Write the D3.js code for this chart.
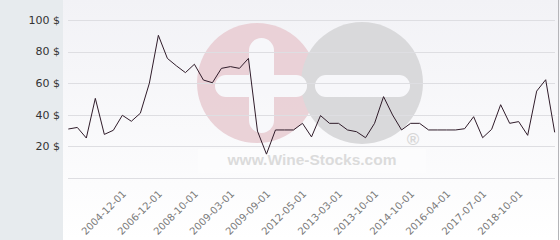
<!DOCTYPE html>
<html>
<head>
<meta charset="utf-8">
<script src="https://cdn.jsdelivr.net/npm/d3@7"></script>
<style>
  html, body { margin: 0; padding: 0; background: #fff; }
  svg { display: block; }
</style>
</head>
<body>
<svg id="chart"></svg>
<script>
// Prix d'une bouteille (vin) — historique
const values = [
  31, 32, 25.3, 50.4, 27.6, 30.2, 39.7, 35.9, 41, 60,
  90.3, 75.7, 71, 66.7, 72, 62, 60.3, 69.4, 70.5, 69.4,
  75.7, 29.7, 15.1, 30.4, 30.4, 30.4, 34.6, 26, 39.5, 34.6,
  34.6, 30.4, 29.3, 25.5, 34.6, 51.5, 39.9, 30.4, 34.6, 34.6,
  30.4, 30.4, 30.4, 30.4, 31.2, 38.8, 25.5, 30.8, 46.4, 34.6,
  35.7, 27, 55, 62.2, 28.9
];
const tickIndex = [6, 10, 14, 18, 22, 26, 30, 34, 38, 42, 46, 50];
const tickLabels = [
  '2004-12-01', '2006-12-01', '2008-10-01', '2009-03-01', '2009-09-01', '2012-05-01',
  '2013-03-01', '2013-10-01', '2014-10-01', '2016-04-01', '2017-07-01', '2018-10-01'
];
const yTicks = [0, 20, 40, 60, 80, 100];

const W = 560, H = 240;
const svg = d3.select('#chart').attr('width', W).attr('height', H);

const x = d3.scaleLinear().domain([0, values.length - 1]).range([68.3, 554.7]);
const y = d3.scaleLinear().domain([0, 100]).range([178, 20]);

const defs = svg.append('defs');
const grad = defs.append('linearGradient').attr('id', 'bg')
  .attr('x1', 0).attr('y1', 0).attr('x2', 0).attr('y2', 1);
grad.append('stop').attr('offset', '0%').attr('stop-color', '#f2f2f6');
grad.append('stop').attr('offset', '100%').attr('stop-color', '#ffffff');

// fond
svg.append('rect').attr('width', W).attr('height', H).attr('fill', '#fff');
svg.append('rect').attr('x', 63).attr('width', W - 63).attr('height', H).attr('fill', 'url(#bg)');
svg.append('rect').attr('width', 63).attr('height', H).attr('fill', '#e7ebee');
svg.append('line').attr('x1', 558.5).attr('x2', 558.5).attr('y1', 0).attr('y2', H)
  .attr('stroke', '#b4b4b8').attr('stroke-width', 1);

// filigrane
const wm = svg.append('g').attr('opacity', 0.95);
wm.append('circle').attr('cx', 257).attr('cy', 83).attr('r', 60).attr('fill', '#ead0d6');
wm.append('circle').attr('cx', 362).attr('cy', 83).attr('r', 61).attr('fill', '#d8d8da');
wm.append('rect').attr('x', 249).attr('y', 38).attr('width', 25).attr('height', 95).attr('rx', 12.5)
  .attr('fill', '#f8f8fb');
wm.append('rect').attr('x', 215).attr('y', 75).attr('width', 92).attr('height', 22).attr('rx', 11)
  .attr('fill', '#f8f8fb');
wm.append('rect').attr('x', 315).attr('y', 75).attr('width', 95).attr('height', 22).attr('rx', 11)
  .attr('fill', '#f8f8fb');
wm.append('rect').attr('x', 198).attr('y', 149).attr('width', 228).attr('height', 24)
  .attr('fill', '#ffffff').attr('opacity', 0.55);
wm.append('text').attr('x', 312).attr('y', 165).attr('text-anchor', 'middle')
  .attr('font-family', 'Liberation Sans, Arial, sans-serif').attr('font-weight', 'bold')
  .attr('font-size', '15.5px').attr('fill', '#dadada').text('www.Wine-Stocks.com');
wm.append('text').attr('x', 413).attr('y', 145).attr('text-anchor', 'middle')
  .attr('font-family', 'Liberation Sans, Arial, sans-serif').attr('font-weight', 'bold')
  .attr('font-size', '17px').attr('fill', '#d6d6d6').text('®');

// grille + axe Y
const gy = svg.append('g');
gy.selectAll('line').data(yTicks).join('line')
  .attr('x1', 68).attr('x2', 555)
  .attr('y1', d => Math.round(y(d)) + 0.5).attr('y2', d => Math.round(y(d)) + 0.5)
  .attr('stroke', '#dedee2').attr('stroke-width', 1);
gy.selectAll('text').data(yTicks.filter(d => d > 0)).join('text')
  .attr('x', 60).attr('y', d => y(d)).attr('dy', '0.35em')
  .attr('text-anchor', 'end')
  .attr('font-family', 'DejaVu Sans, sans-serif').attr('font-size', '11px')
  .attr('fill', '#333').text(d => d + ' $');

// axe X (étiquettes inclinées)
const gx = svg.append('g').attr('opacity', 0.999);
gx.selectAll('text').data(tickIndex).join('text')
  .attr('transform', d => `translate(${x(d) + 2},192) rotate(-45)`)
  .attr('text-anchor', 'end')
  .attr('dy', '0.35em')
  .attr('font-family', 'DejaVu Sans, sans-serif').attr('font-size', '10px')
  .attr('fill', '#7a7a7a').text((d, i) => tickLabels[i]);

// courbe
const line = d3.line().x((d, i) => x(i)).y(d => y(d));
svg.append('path').datum(values)
  .attr('d', line)
  .attr('fill', 'none')
  .attr('stroke', '#301c2a')
  .attr('stroke-width', 1)
  .attr('stroke-linejoin', 'round');
</script>
</body>
</html>
